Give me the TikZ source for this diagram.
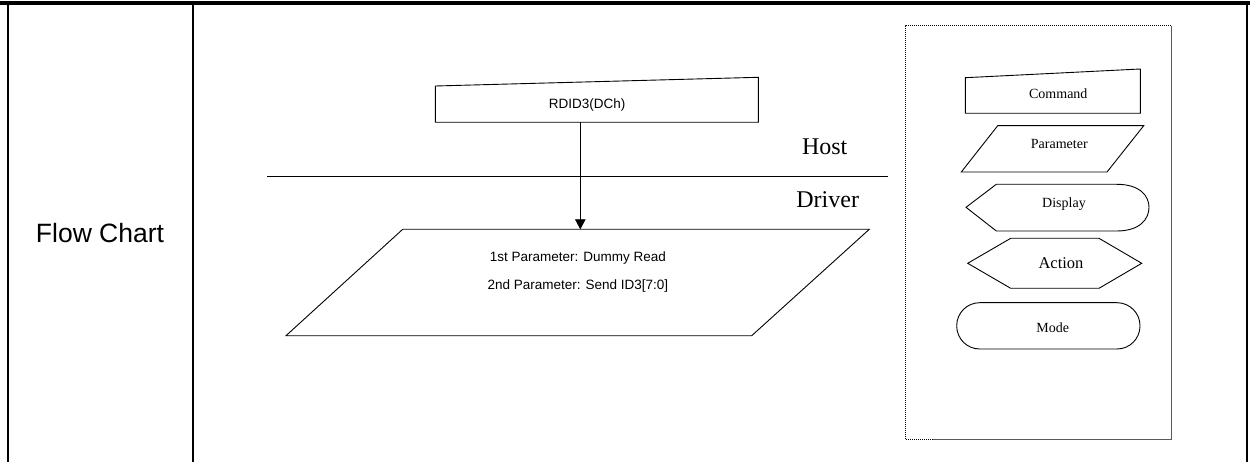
\documentclass[tikz,border=0pt]{standalone}
\usepackage{fontspec}
\setmainfont{Liberation Serif}
\newfontfamily\arialf{Liberation Sans}
\usetikzlibrary{arrows.meta,calc}
\tikzset{
  outline/.style={draw=black,line width=0.9pt,line join=miter},
  tableline/.style={draw=black,line width=2pt},
  arial/.style={font=\arialf\fontsize{13.5}{16}\selectfont,inner sep=0pt},
  times/.style={font=\fontsize{14}{16}\selectfont,inner sep=0pt},
  bigtimes/.style={font=\fontsize{24}{28}\selectfont,inner sep=0pt},
  arr/.style={draw=black,line width=0.9pt,-{Triangle[length=10pt,width=10.5pt]}},
  finedots/.style={draw=black,line width=1pt,dash pattern=on 1pt off 1pt},
}
\begin{document}
\begin{tikzpicture}[x=1pt,y=-1pt]
\useasboundingbox (0,0) rectangle (1250,462);
% table frame
\draw[draw=black,line width=4pt] (0,3) -- (1250,3);
\draw[tableline] (8,1) -- (8,462);
\draw[tableline] (193,1) -- (193,462);
\draw[tableline] (1247,1) -- (1247,462);
\node[font=\arialf\fontsize{26.5}{30}\selectfont,inner sep=0pt] (fc) at (100,233) {Flow Chart};

% command box
\coordinate (c1) at (435.3,86);
\coordinate (c2) at (758.3,77.3);
\coordinate (c3) at (758.3,122.3);
\coordinate (c4) at (435.3,122.3);
\draw[outline] (c1) -- (c2) -- (c3) -- (c4) -- cycle;
\node[arial] (cmd) at (587.2,105) {RDID3(DCh)};

% host / driver separator
\coordinate (l1) at (267,176.7);
\coordinate (l2) at (887.5,176.7);
\draw[draw=black,line width=0.9pt] (l1) -- (l2);
\node[bigtimes] (host) at (824.7,146.7) {Host};
\node[bigtimes] (driver) at (827.7,199.3) {Driver};

% parameter parallelogram
\coordinate (p1) at (402.7,229.3);
\coordinate (p2) at (869.3,229.3);
\coordinate (p3) at (751.7,335.7);
\coordinate (p4) at (286,335.7);
\draw[outline] (p1) -- (p2) -- (p3) -- (p4) -- cycle;
\node[arial] (par1) at (577.8,258.3) {1st Parameter: Dummy Read};
\node[arial] (par2) at (577.8,285.7) {2nd Parameter: Send ID3[7:0]};

% connector
\coordinate (cmdout) at (580.3,122.3);
\coordinate (parin) at (580.3,229.3);
\draw[arr] (cmdout) -- (parin);

% legend frame
\coordinate (g1) at (905.3,25.7);
\coordinate (g2) at (1171,25.7);
\coordinate (g3) at (1171,439);
\coordinate (g4) at (905.3,439);
\coordinate (g5) at (933,439);
\draw[finedots] (g5) -- (g4) -- (g1) -- (g2);
\draw[draw=black!65,line width=1pt] (g2) -- (g3) -- (g5);

% legend: command
\draw[outline] (965.3,77.7) -- (1140.3,69) -- (1140.3,113.3) -- (965.3,113.3) -- cycle;
\node[times] (lcmd) at (1058.3,93.3) {Command};
% legend: parameter
\draw[outline] (997.7,125.7) -- (1143.7,125.7) -- (1107,172) -- (961.3,172) -- cycle;
\node[times] (lpar) at (1059.3,144) {Parameter};
% legend: display
\draw[outline] (966,207.3) -- (996.3,184.3) -- (1116.7,184.3)
  .. controls (1140,184.3) and (1149,196) .. (1149,207.3)
  .. controls (1149,219) and (1140,231) .. (1116.7,231)
  -- (996.3,231) -- cycle;
\node[times] (ldis) at (1064,204.5) {Display};
% legend: action
\draw[outline] (967.7,263.3) -- (1010.7,238.3) -- (1099,238.3) -- (1141.7,263.3) -- (1099,288.3) -- (1010.7,288.3) -- cycle;
\node[times,font=\fontsize{16.5}{18}\selectfont] (lact) at (1061,263.3) {Action};
% legend: mode
\draw[outline,rounded corners=23pt] (956.7,302.7) rectangle (1140,349);
\node[times] (lmode) at (1052.7,327.3) {Mode};
\end{tikzpicture}
\end{document}
